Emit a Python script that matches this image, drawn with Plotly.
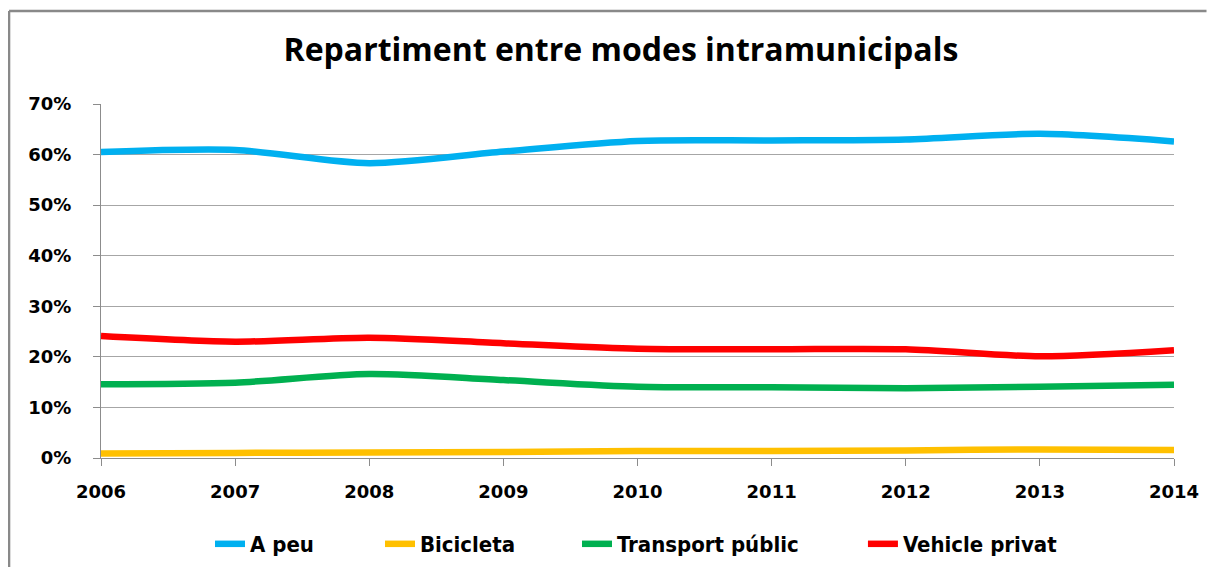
import plotly.graph_objects as go

years = [2006, 2007, 2008, 2009, 2010, 2011, 2012, 2013, 2014]
a_peu = [60.5, 60.9, 58.3, 60.6, 62.7, 62.8, 63.0, 64.1, 62.6]
bicicleta = [0.9, 1.0, 1.1, 1.2, 1.4, 1.4, 1.5, 1.7, 1.6]
transport_public = [14.6, 14.9, 16.6, 15.4, 14.1, 14.0, 13.8, 14.1, 14.5]
vehicle_privat = [24.1, 23.0, 23.8, 22.7, 21.6, 21.5, 21.5, 20.1, 21.3]
y_ticks = [0, 10, 20, 30, 40, 50, 60, 70]

series = [
    ("A peu", a_peu, "#00B0F0"),
    ("Bicicleta", bicicleta, "#FFC000"),
    ("Transport públic", transport_public, "#00B050"),
    ("Vehicle privat", vehicle_privat, "#FF0000"),
]
legend_x = [0.1016, 0.2600, 0.4436, 0.7101]
legend_ids = ["legend", "legend2", "legend3", "legend4"]

fig = go.Figure()
for (name, vals, col), lid in zip(series, legend_ids):
    fig.add_trace(go.Scatter(
        x=years, y=[v / 100 for v in vals], name="<b>" + name + "</b>", mode="lines",
        line=dict(color=col, width=6.5, shape="spline", smoothing=0.8),
        legend=lid,
    ))

leg_common = dict(orientation="h", xanchor="left", y=-0.243, yanchor="middle",
                  font=dict(family="DejaVu Sans Condensed", size=22, color="black"),
                  bgcolor="rgba(0,0,0,0)")
legends = {lid: dict(x=lx, **leg_common) for lid, lx in zip(legend_ids, legend_x)}

fig.update_layout(
    width=1200, height=559,
    margin=dict(l=93, r=34, t=96, b=109, autoexpand=False),
    paper_bgcolor="white", plot_bgcolor="white",
    title=dict(text="<b>Repartiment entre modes intramunicipals</b>",
               x=0.5108, xanchor="center", y=0.9249, yanchor="middle",
               font=dict(family="Open Sans", size=32, color="black")),
    xaxis=dict(range=[2006, 2014], tickmode="array", tickvals=years,
               ticktext=["<b>%d</b>" % y for y in years],
               showgrid=False, showline=True, linecolor="#8c8c8c", linewidth=1,
               ticks="outside", ticklen=7, tickcolor="#8c8c8c",
               ticklabelstandoff=10,
               tickfont=dict(family="DejaVu Sans", size=18, color="black"),
               zeroline=False),
    yaxis=dict(range=[0, 0.7], tickmode="array", tickvals=[t / 100 for t in y_ticks],
               ticktext=["<b>%d%%</b>" % t for t in y_ticks],
               showgrid=True, gridcolor="#a6a6a6", gridwidth=1,
               showline=True, linecolor="#8c8c8c", linewidth=1,
               ticks="outside", ticklen=7, tickcolor="#8c8c8c",
               ticklabelstandoff=18,
               tickfont=dict(family="DejaVu Sans", size=18, color="black"),
               zeroline=False),
    showlegend=True,
    **legends,
)
fig.add_shape(type="line", xref="paper", yref="paper",
              x0=-0.0857, x1=-0.0857, y0=-0.6, y1=1.2627,
              line=dict(color="#898989", width=2.5), layer="below")
fig.add_shape(type="line", xref="paper", yref="paper",
              x0=-0.0857, x1=1.0303, y0=1.2627, y1=1.2627,
              line=dict(color="#898989", width=2.5), layer="below")

fig.write_html("out.html")
